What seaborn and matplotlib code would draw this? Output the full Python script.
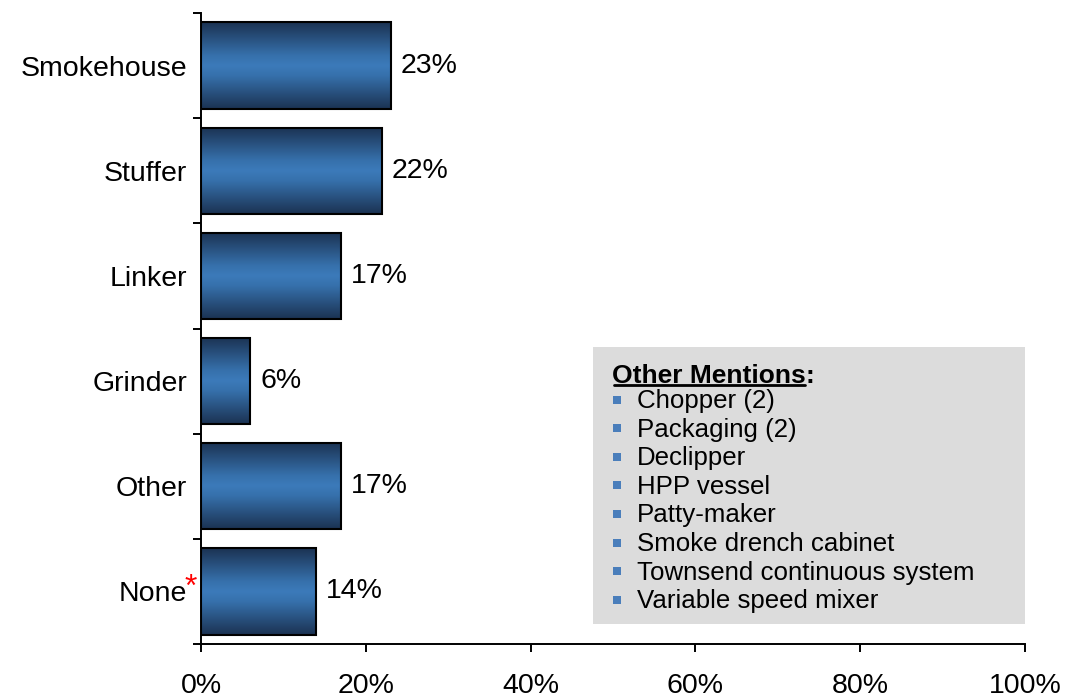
import numpy as np
import pandas as pd
import matplotlib
matplotlib.use("Agg")
import matplotlib.pyplot as plt
import seaborn as sns
from matplotlib.colors import LinearSegmentedColormap
from matplotlib.patches import Rectangle
from matplotlib.lines import Line2D
from matplotlib.ticker import FixedLocator

# ---- data -------------------------------------------------------------
categories = ["Smokehouse", "Stuffer", "Linker", "Grinder", "Other", "None"]
shares = [23, 22, 17, 6, 17, 14]          # percent of respondents
x_ticks = [0, 20, 40, 60, 80, 100]
x_tick_labels = ["0%", "20%", "40%", "60%", "80%", "100%"]
other_header = "Other Mentions"
other_mentions = [
    "Chopper (2)",
    "Packaging (2)",
    "Declipper",
    "HPP vessel",
    "Patty-maker",
    "Smoke drench cabinet",
    "Townsend continuous system",
    "Variable speed mixer",
]

# ---- style ------------------------------------------------------------
sns.set_theme(style="white")
plt.rcParams["font.family"] = ["Liberation Sans", "DejaVu Sans"]
plt.rcParams["axes.edgecolor"] = "black"
plt.rcParams["text.color"] = "black"
plt.rcParams["xtick.color"] = "black"
plt.rcParams["ytick.color"] = "black"
plt.rcParams["xtick.labelcolor"] = "black"
plt.rcParams["ytick.labelcolor"] = "black"

W, H = 1067, 698
fig = plt.figure(figsize=(W / 100, H / 100), dpi=100)
ax = fig.add_axes([201 / W, 1 - 644 / H, (1025 - 201) / W, (644 - 13) / H])

df = pd.DataFrame({"category": categories, "share": shares})
sns.barplot(data=df, x="share", y="category", orient="h", width=0.82,
            color="#3a74b0", edgecolor="black", linewidth=1.5, ax=ax)

# vertical shading inside each bar: dark edges, lighter centre
shade = LinearSegmentedColormap.from_list(
    "bar_shade",
    [(0.0, "#1b3252"), (0.38, "#3670ab"), (0.5, "#3c7aba"),
     (0.62, "#3670ab"), (1.0, "#1b3252")])
grad = np.linspace(0, 1, 256).reshape(-1, 1)
for bar in list(ax.patches):
    x0, y0 = bar.get_x(), bar.get_y()
    w, h = bar.get_width(), bar.get_height()
    im = ax.imshow(grad, extent=[x0, x0 + w, y0 + h, y0], aspect="auto",
                   cmap=shade, interpolation="bilinear",
                   zorder=bar.get_zorder() + 0.1)
    im.set_clip_path(bar)
    bar.set_facecolor("none")
    bar.set_zorder(bar.get_zorder() + 0.2)

ax.set_xlim(0, 100)
ax.set_ylim(len(categories) - 0.5, -0.5)
ax.set_aspect("auto")

# value labels
for i, v in enumerate(shares):
    ax.annotate(f"{v}%", xy=(v, i), xytext=(7, 0), textcoords="offset points",
                ha="left", va="center", fontsize=20.5, color="black")

# axes, ticks
for s in ["top", "right"]:
    ax.spines[s].set_visible(False)
for s in ["left", "bottom"]:
    ax.spines[s].set_linewidth(1.4)
    ax.spines[s].set_color("black")

ax.set_xticks(x_ticks)
ax.set_xticklabels(x_tick_labels, fontsize=20.5, color="black")
ax.tick_params(axis="x", which="major", direction="out", length=6, width=1.4,
               color="black", pad=15, bottom=True)
ax.set_yticks(range(len(categories)))
ax.set_yticklabels(categories, fontsize=20.5, color="black")
ax.tick_params(axis="y", which="major", length=0, pad=10)
ax.yaxis.set_minor_locator(FixedLocator(np.arange(-0.5, len(categories), 1.0)))
ax.tick_params(axis="y", which="minor", direction="out", length=6, width=1.4,
               color="black", left=True)
ax.set_xlabel("")
ax.set_ylabel("")


def fpos(px, py):
    return px / W, 1 - py / H


# red asterisk next to "None"
fig.text(*fpos(185, 596), "*", color="#ff0000", fontsize=23,
         ha="left", va="baseline")

# "Other Mentions" panel
bx0, by0, bx1, by1 = 593, 347, 1025, 624
ax.add_patch(Rectangle(fpos(bx0, by1), (bx1 - bx0) / W, (by1 - by0) / H,
                       transform=fig.transFigure, facecolor="#dcdcdc",
                       edgecolor="none", clip_on=False, zorder=5))

head = fig.text(*fpos(612, 383), other_header, fontsize=19, fontweight="bold",
                ha="left", va="baseline", zorder=6)
fig.canvas.draw()
bb = head.get_window_extent(renderer=fig.canvas.get_renderer())
hx0, hx1 = bb.x0 / W, bb.x1 / W
uy = 1 - 385.5 / H
fig.add_artist(Line2D([hx0 + 1.5 / W, hx1 - 1 / W], [uy, uy], color="black",
                      linewidth=2.0, transform=fig.transFigure, zorder=6))
fig.text(hx1, 1 - 383 / H, ":", fontsize=19, fontweight="bold",
         ha="left", va="baseline", zorder=6)

for k, item in enumerate(other_mentions):
    base = 408 + 28.6 * k
    ax.add_patch(Rectangle(fpos(613, base - 4.5), 8 / W, 8 / H,
                           transform=fig.transFigure, facecolor="#4a7ebb",
                           edgecolor="none", clip_on=False, zorder=6))
    fig.text(*fpos(637, base), item, fontsize=18.6, ha="left",
             va="baseline", zorder=6)

fig.savefig("out.png", dpi=100, facecolor="white")
